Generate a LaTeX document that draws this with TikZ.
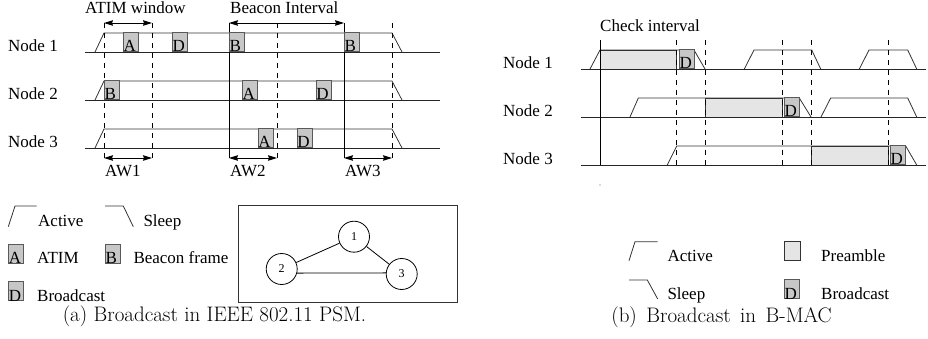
\documentclass[tikz,border=0pt]{standalone}
\usepackage{fontspec}
\newfontfamily\tnr{Liberation Serif}
\usetikzlibrary{arrows.meta}
\begin{document}
\begin{tikzpicture}[x=1pt,y=-1pt,
  lbl/.style={font=\tnr\fontsize{17}{20}\selectfont, inner sep=0pt},
  ltr/.style={font=\tnr\fontsize{17}{20}\selectfont, inner sep=0pt},
  captxt/.style={font=\fontsize{21}{24}\selectfont\addfontfeatures{FakeBold=0.4}, inner sep=0pt},
  tline/.style={line width=0.9pt, draw=black!85},
  actl/.style={line width=0.8pt, draw=black!80},
  vsolid/.style={line width=0.9pt, draw=black},
  vdash/.style={line width=0.9pt, draw=black, dash pattern=on 5pt off 5pt},
  dbl/.style={line width=0.9pt, {Stealth[length=9pt,width=5.5pt,inset=1pt]}-{Stealth[length=9pt,width=5.5pt,inset=1pt]}},
  frm/.style={draw=black!65, fill=black!22, line width=0.8pt, minimum width=15pt, minimum height=19pt, inner sep=0pt, anchor=south west},
  prm/.style={draw=black!80, fill=black!10, line width=0.8pt},
  nd/.style={circle, draw, line width=0.8pt, minimum size=31pt, inner sep=0pt, font=\tnr\fontsize{12}{14}\selectfont},
]
\useasboundingbox (0,0) rectangle (928,339);
\newcommand\fr[4]{\node[frm] (#1) at (#2,#3) {};\node[ltr, anchor=base west] (#1t) at ([xshift=0.4pt]#1.south west) {#4};}

% ================= (a) =================
\node[lbl, anchor=base west] (a-n1) at (8,52) {Node 1};
\node[lbl, anchor=base west] (a-n2) at (8,100) {Node 2};
\node[lbl, anchor=base west] (a-n3) at (8,148) {Node 3};
\node[lbl, anchor=base west] (a-atim) at (85,14) {ATIM window};
\node[lbl, anchor=base west] (a-bi) at (230,14) {Beacon Interval};

\draw[tline] (85,52) -- (440,52);
\draw[tline] (85,100) -- (440,100);
\draw[tline] (85,148) -- (440,148);

\draw[actl] (95,52) -- (104,33) -- (392,33) -- (402,52);
\draw[actl] (95,100) -- (104,81) -- (392,81) -- (402,100);
\draw[actl] (95,148) -- (104,129) -- (392,129) -- (402,148);

\foreach \x in {104,152,277,392} \draw[vdash] (\x,23) -- (\x,158);
\foreach \x in {229,344} \draw[vsolid] (\x,23) -- (\x,158);

\draw[dbl] (104,23) -- (152,23);
\draw[dbl] (229,23) -- (344,23);
\draw[dbl] (104,158) -- (152,158);
\draw[dbl] (229,158) -- (277,158);
\draw[dbl] (344,158) -- (392,158);

\node[lbl, anchor=base west] (aw1) at (105,177) {AW1};
\node[lbl, anchor=base west] (aw2) at (230,177) {AW2};
\node[lbl, anchor=base west] (aw3) at (345,177) {AW3};

\fr{f1a}{123}{52}{A}
\fr{f1d}{172}{52}{D}
\fr{f1b}{229}{52}{B}
\fr{f1c}{344}{52}{B}
\fr{f2b}{104}{100}{B}
\fr{f2a}{242}{100}{A}
\fr{f2d}{315.7}{100}{D}
\fr{f3a}{257.7}{148}{A}
\fr{f3d}{296.7}{148}{D}

% legend (a)
\draw[actl] (8.3,226.7) -- (15,206) -- (36.7,206);
\node[lbl, anchor=base west] (la-act) at (38,226) {Active};
\draw[actl] (105,206) -- (123.3,206) -- (133.3,226.7);
\node[lbl, anchor=base west] (la-slp) at (143.3,226) {Sleep};
\fr{lga}{8.3}{263.3}{A}
\node[lbl, anchor=base west] (la-atim) at (37,263) {ATIM};
\fr{lgb}{105}{263.3}{B}
\node[lbl, anchor=base west] (la-bf) at (133.3,263) {Beacon frame};
\fr{lgd}{8.3}{301}{D}
\node[lbl, anchor=base west] (la-bc) at (37,301) {Broadcast};

% topology
\draw[line width=0.9pt, draw=black!80] (238,205) rectangle (457,302);
\node[nd] (c1) at (354,236.7) {1};
\node[nd] (c2) at (281.7,269) {2};
\node[nd] (c3) at (401.7,274) {3};
\draw[line width=0.8pt] (c1) -- (c2);
\draw[line width=0.8pt] (c1) -- (c3);
\draw[line width=0.8pt] (c2.-15) -- (c3.176);

\node[captxt, anchor=base] (capa) at (214.5,321) {(a) Broadcast in IEEE 802.11 PSM.};

% ================= (b) =================
\node[lbl, anchor=base west] (b-n1) at (503,69) {Node 1};
\node[lbl, anchor=base west] (b-n2) at (503,117) {Node 2};
\node[lbl, anchor=base west] (b-n3) at (503,165) {Node 3};
\node[lbl, anchor=base west] (b-ci) at (600,32) {Check interval};

\draw[prm] (600,50) rectangle (676.7,69);
\draw[prm] (705.7,98) rectangle (782.3,117);
\draw[prm] (811.7,146) rectangle (888.3,165);

\draw[tline] (581,69) -- (926,69);
\draw[tline] (581,117) -- (926,117);
\draw[tline] (581,165) -- (926,165);

\draw[actl] (590,69) -- (600,50) -- (694,50) -- (705,69);
\draw[actl] (744.3,69) -- (754,50) -- (811.7,50) -- (820.7,69);
\draw[actl] (859.3,69) -- (869,50) -- (907.7,50) -- (916.7,69);
\draw[actl] (630,117) -- (638.3,98) -- (799.3,98) -- (811,117);
\draw[actl] (821,117) -- (830.7,98) -- (907.7,98) -- (916.7,117);
\draw[actl] (667.3,165) -- (676.7,146) -- (905.7,146) -- (916.7,165);

\draw[vsolid] (600,40) -- (600,165);
\foreach \x in {676.7,705.5,782.3,811.7,888.3} \draw[vdash] (\x,40) -- (\x,165);

\fr{g1d}{679}{69}{D}
\fr{g2d}{784}{117}{D}
\fr{g3d}{890}{165}{D}

\fill[black!60] (600,185) circle (0.6pt);

% legend (b)
\draw[actl] (629,260.7) -- (635,241.7) -- (657.7,241.7);
\node[lbl, anchor=base west] (lb-act) at (667.3,261.7) {Active};
\draw[prm] (784,241) rectangle (800,260.7);
\node[lbl, anchor=base west] (lb-pre) at (821,261.7) {Preamble};
\draw[actl] (629,280) -- (647.3,280) -- (657.7,299);
\node[lbl, anchor=base west] (lb-slp) at (667.3,299.3) {Sleep};
\fr{lgd2}{784}{299}{D}
\node[lbl, anchor=base west] (lb-bc) at (821,299.3) {Broadcast};

\node[captxt, anchor=base] (capb) at (721.5,322) {\spaceskip=9.5pt plus 0pt minus 0pt (b) Broadcast in B-MAC};
\end{tikzpicture}
\end{document}
